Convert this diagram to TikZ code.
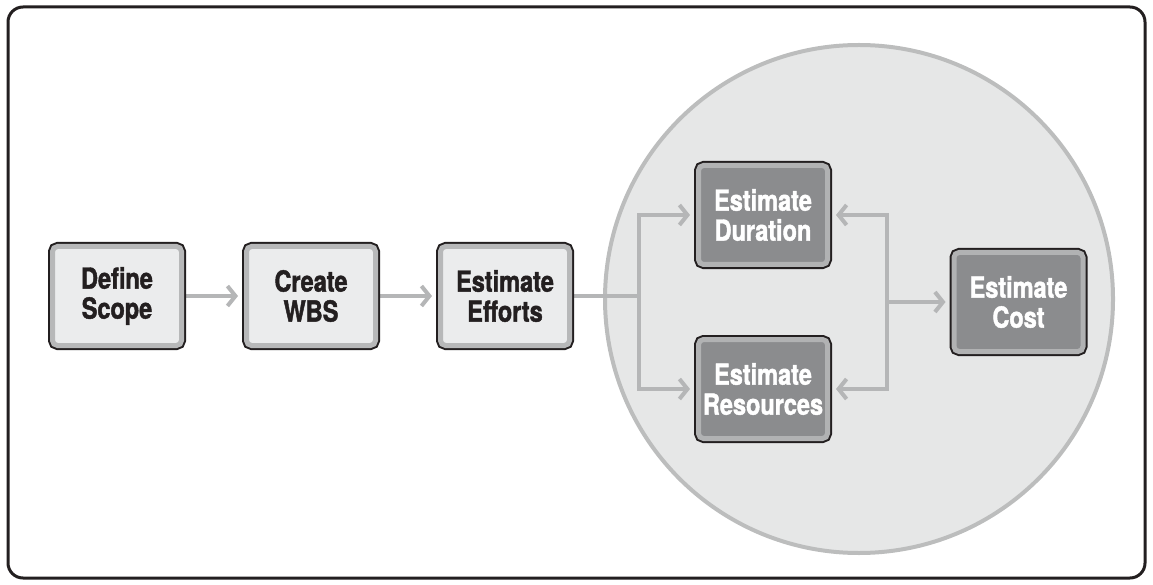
\documentclass[tikz,border=0pt]{standalone}
\usepackage{fontspec}
\setmainfont{TeX Gyre Heros}[FakeStretch=0.81, BoldFeatures={FakeBold=1.5}]
\usetikzlibrary{arrows.meta}
\definecolor{frameink}{HTML}{231F20}
\definecolor{lightfill}{HTML}{EBECED}
\definecolor{lightring}{HTML}{B7B8B9}
\definecolor{darkfill}{HTML}{8B8C8E}
\definecolor{darkring}{HTML}{B1B2B3}
\definecolor{discfill}{HTML}{E6E7E7}
\definecolor{discline}{HTML}{BCBDBD}
\definecolor{linkgray}{HTML}{B5B6B7}
\pgfdeclarelayer{disc}
\pgfdeclarelayer{links}
\pgfsetlayers{disc,links,main}
\tikzset{
  stepbox/.style={rectangle, rounded corners=5pt, minimum width=129pt, minimum height=99pt,
    inner sep=0pt, align=center, line width=5pt,
    preaction={draw=frameink, line width=9pt},
    font=\bfseries\fontsize{29}{30}\selectfont},
  lightbox/.style={stepbox, fill=lightfill, draw=lightring, text=frameink},
  darkbox/.style={stepbox, fill=darkfill, draw=darkring, text=white},
  link/.style={draw=linkgray, line width=4pt},
  arrowlink/.style={link, -{Straight Barb[length=8pt,width=20pt]}, shorten >=6pt},
}
\begin{document}
\begin{tikzpicture}[x=1pt,y=-1pt]
  \useasboundingbox (0,0) rectangle (1153,585);
  % outer frame
  \draw[frameink, line width=3pt, rounded corners=15pt] (8,7) rectangle (1145,578);

  % process steps
  \node[lightbox] (scope) at (117,296) {Define\\Scope};
  \node[lightbox] (wbs)   at (311,296) {Create\\WBS};
  \node[lightbox] (eff)   at (505,296) {Estimate\\Efforts};
  \node[darkbox]  (dur)   at (763,215) {Estimate\\Duration};
  \node[darkbox]  (res)   at (763,389) {Estimate\\Resources};
  \node[darkbox]  (cost)  at (1018.5,302) {Estimate\\Cost};

  % shaded region behind the estimation steps
  \begin{pgfonlayer}{disc}
    \node[circle, minimum size=508pt, inner sep=0pt, fill=discfill, draw=discline, line width=4pt]
      (region) at (859,299) {};
  \end{pgfonlayer}

  % split and join points
  \coordinate (split) at (639,296);
  \coordinate (join)  at (887,302);

  \begin{pgfonlayer}{links}
    \draw[arrowlink] (scope) -- (wbs);
    \draw[arrowlink] (wbs) -- (eff);
    \draw[link] (eff.east) -- (split);
    \draw[arrowlink] (split) |- (dur);
    \draw[arrowlink] (split) |- (res);
    \draw[arrowlink] (join) |- (dur);
    \draw[arrowlink] (join) |- (res);
    \draw[arrowlink] (join) -- (cost);
  \end{pgfonlayer}
\end{tikzpicture}
\end{document}
